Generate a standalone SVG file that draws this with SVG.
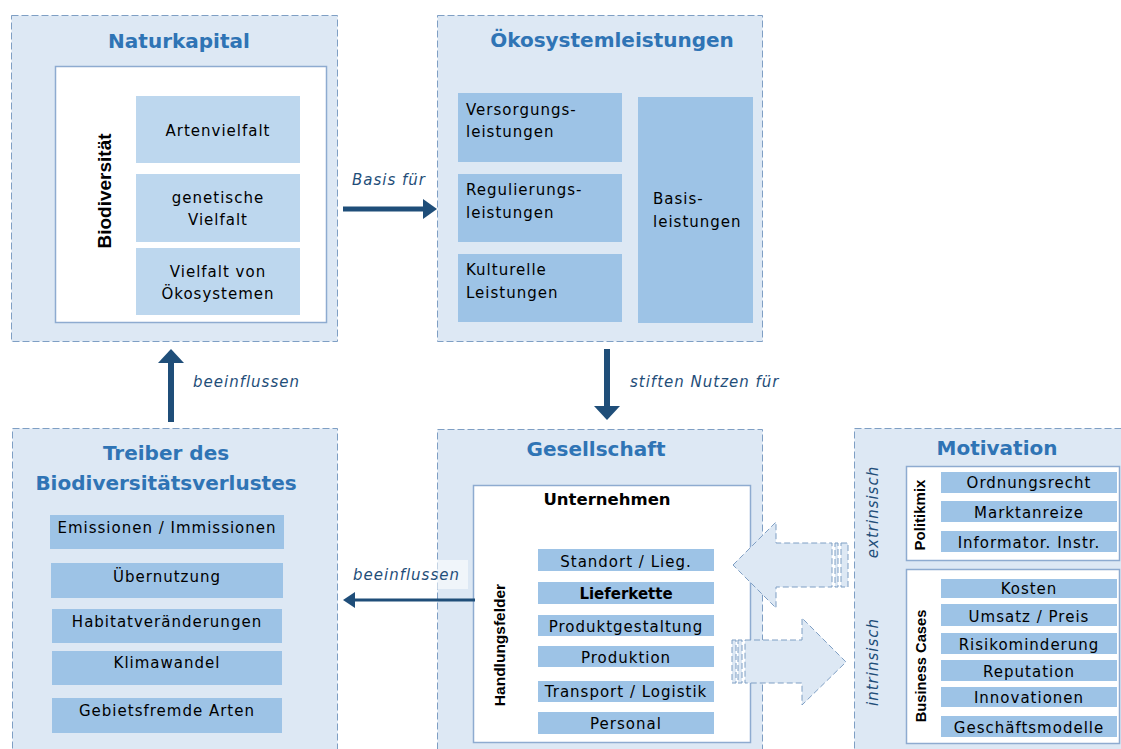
<svg xmlns="http://www.w3.org/2000/svg" width="1121" height="749" viewBox="0 0 1121 749">
<defs>
<style>
.panel{fill:#dde8f4;stroke:#7f9fc4;stroke-width:1;stroke-dasharray:7 3}
.inner{fill:#ffffff;stroke:#8eabd0;stroke-width:1.5}
.lt{fill:#bdd7ee}
.md{fill:#9dc3e6}
.title{font-family:"DejaVu Sans",Verdana,sans-serif;font-weight:bold;font-size:20px;fill:#2f74b5;text-anchor:middle}
.t{font-family:"DejaVu Sans",Verdana,sans-serif;font-size:15px;letter-spacing:1px;fill:#000}
.c{text-anchor:middle}
.b{font-family:"DejaVu Sans",Verdana,sans-serif;font-weight:bold;fill:#000;text-anchor:middle}
.rb{font-family:"Liberation Sans",Arial,sans-serif;font-weight:bold;fill:#000;text-anchor:middle}
.lbl{font-family:"DejaVu Sans",Verdana,sans-serif;font-style:italic;font-size:15px;letter-spacing:1px;fill:#1f4e79}
.hollow{fill:#dde8f4;stroke:#7f9fc4;stroke-width:1;stroke-dasharray:6 3}
</style>
</defs>

<g id="naturkapital">
<rect class="panel" x="11.5" y="15.5" width="326" height="326"/>
<text class="title" x="179" y="48">Naturkapital</text>
<rect class="inner" x="55.5" y="66.5" width="271" height="256"/>
<text class="rb" font-size="19" transform="translate(111,191) rotate(-90)">Biodiversität</text>
<rect class="lt" x="136" y="96" width="164" height="67"/>
<text class="t c" x="218" y="136">Artenvielfalt</text>
<rect class="lt" x="136" y="174" width="164" height="68"/>
<text class="t c" x="218" y="203">genetische</text>
<text class="t c" x="218" y="225">Vielfalt</text>
<rect class="lt" x="136" y="248" width="164" height="67"/>
<text class="t c" x="218" y="277">Vielfalt von</text>
<text class="t c" x="218" y="299">Ökosystemen</text>
</g>

<g id="oekosystemleistungen">
<rect class="panel" x="437.5" y="15.5" width="325" height="326"/>
<text class="title" x="612" y="47">Ökosystemleistungen</text>
<rect class="md" x="458" y="93" width="164" height="69"/>
<text class="t" x="466" y="115">Versorgungs-</text>
<text class="t" x="466" y="137">leistungen</text>
<rect class="md" x="458" y="174" width="164" height="68"/>
<text class="t" x="466" y="195">Regulierungs-</text>
<text class="t" x="466" y="218">leistungen</text>
<rect class="md" x="458" y="254" width="164" height="68"/>
<text class="t" x="466" y="275">Kulturelle</text>
<text class="t" x="466" y="298">Leistungen</text>
<rect class="md" x="638" y="97" width="115" height="226"/>
<text class="t" x="653" y="204">Basis-</text>
<text class="t" x="653" y="227">leistungen</text>
</g>

<g id="treiber">
<rect class="panel" x="12.5" y="428.5" width="325" height="340"/>
<text class="title" x="166" y="460">Treiber des</text>
<text class="title" x="166" y="490">Biodiversitätsverlustes</text>
<rect class="md" x="50" y="515" width="234" height="34"/>
<text class="t c" x="167" y="533">Emissionen / Immissionen</text>
<rect class="md" x="51" y="563" width="232" height="35"/>
<text class="t c" x="167" y="582">Übernutzung</text>
<rect class="md" x="52" y="609" width="230" height="34"/>
<text class="t c" x="167" y="627">Habitatveränderungen</text>
<rect class="md" x="52" y="651" width="230" height="34"/>
<text class="t c" x="167" y="668">Klimawandel</text>
<rect class="md" x="52" y="698" width="230" height="35"/>
<text class="t c" x="167" y="716">Gebietsfremde Arten</text>
</g>

<g id="gesellschaft">
<rect class="panel" x="437.5" y="429.5" width="325" height="340"/>
<text class="title" x="596" y="456">Gesellschaft</text>
<rect class="inner" x="473.5" y="485.5" width="277" height="257"/>
<text class="b" font-size="16.5" x="607" y="505">Unternehmen</text>
<text class="rb" font-size="15.5" transform="translate(505,645) rotate(-90)">Handlungsfelder</text>
<rect class="md" x="538" y="549" width="176" height="22"/>
<text class="t c" x="626" y="567">Standort / Lieg.</text>
<rect class="md" x="538" y="582" width="176" height="22"/>
<text class="b" font-size="15" x="626" y="599">Lieferkette</text>
<rect class="md" x="538" y="615" width="176" height="21"/>
<text class="t c" x="626" y="632">Produktgestaltung</text>
<rect class="md" x="538" y="646" width="176" height="21"/>
<text class="t c" x="626" y="663">Produktion</text>
<rect class="md" x="538" y="681" width="176" height="21"/>
<text class="t c" x="626" y="697">Transport / Logistik</text>
<rect class="md" x="538" y="712" width="176" height="22"/>
<text class="t c" x="626" y="729">Personal</text>
</g>

<g id="motivation">
<rect class="panel" x="854.5" y="428.5" width="280" height="340"/>
<text class="title" x="997" y="455">Motivation</text>
<rect class="inner" x="906.5" y="466.5" width="213" height="94"/>
<text class="rb" font-size="15" transform="translate(925,515) rotate(-90)">Politikmix</text>
<rect class="md" x="941" y="472" width="176" height="21"/>
<text class="t c" x="1029" y="488">Ordnungsrecht</text>
<rect class="md" x="941" y="501" width="176" height="21"/>
<text class="t c" x="1029" y="518">Marktanreize</text>
<rect class="md" x="941" y="531" width="176" height="21"/>
<text class="t c" x="1029" y="548">Informator. Instr.</text>
<rect class="inner" x="906.5" y="569.5" width="213" height="174"/>
<text class="rb" font-size="14.7" transform="translate(926,666) rotate(-90)">Business Cases</text>
<rect class="md" x="941" y="579" width="176" height="19"/>
<text class="t c" x="1029" y="594">Kosten</text>
<rect class="md" x="941" y="604" width="176" height="22"/>
<text class="t c" x="1029" y="622">Umsatz / Preis</text>
<rect class="md" x="941" y="633" width="176" height="21"/>
<text class="t c" x="1029" y="650">Risikominderung</text>
<rect class="md" x="941" y="660" width="176" height="21"/>
<text class="t c" x="1029" y="677">Reputation</text>
<rect class="md" x="941" y="687" width="176" height="20"/>
<text class="t c" x="1029" y="703">Innovationen</text>
<rect class="md" x="941" y="716" width="176" height="21"/>
<text class="t c" x="1029" y="733">Geschäftsmodelle</text>
<text class="lbl" text-anchor="middle" transform="translate(878,512) rotate(-90)">extrinsisch</text>
<text class="lbl" text-anchor="middle" transform="translate(878,662) rotate(-90)">intrinsisch</text>
</g>

<g id="connectors">
<line x1="343" y1="209" x2="424" y2="209" stroke="#1f4e79" stroke-width="5"/>
<polygon points="423,199 437,209 423,219" fill="#1f4e79"/>
<text class="lbl" x="352" y="185">Basis für</text>
<line x1="607" y1="349" x2="607" y2="408" stroke="#1f4e79" stroke-width="6"/>
<polygon points="594,406 620,406 607,420" fill="#1f4e79"/>
<text class="lbl" x="630" y="387">stiften Nutzen für</text>
<line x1="171" y1="422" x2="171" y2="362" stroke="#1f4e79" stroke-width="6"/>
<polygon points="158,363 184,363 171,349" fill="#1f4e79"/>
<text class="lbl" x="193" y="387">beeinflussen</text>
<rect x="345" y="560" width="123" height="29" fill="#ffffff" fill-opacity="0.55"/>
<line x1="475" y1="600" x2="352" y2="600" stroke="#1f4e79" stroke-width="3"/>
<polygon points="355,592 343,600 355,608" fill="#1f4e79"/>
<text class="lbl" x="353" y="580">beeinflussen</text>
<polygon class="hollow" points="733,565 776,522 776,543 832,543 832,587 776,587 776,608"/>
<rect class="hollow" x="835" y="543" width="3" height="44"/>
<rect class="hollow" x="841" y="543" width="7" height="44"/>
<rect class="hollow" x="732" y="640" width="4" height="43"/>
<rect class="hollow" x="738" y="640" width="4" height="43"/>
<polygon class="hollow" points="745,640 802,640 802,618 846,662 802,705 802,683 745,683"/>
</g>
</svg>
